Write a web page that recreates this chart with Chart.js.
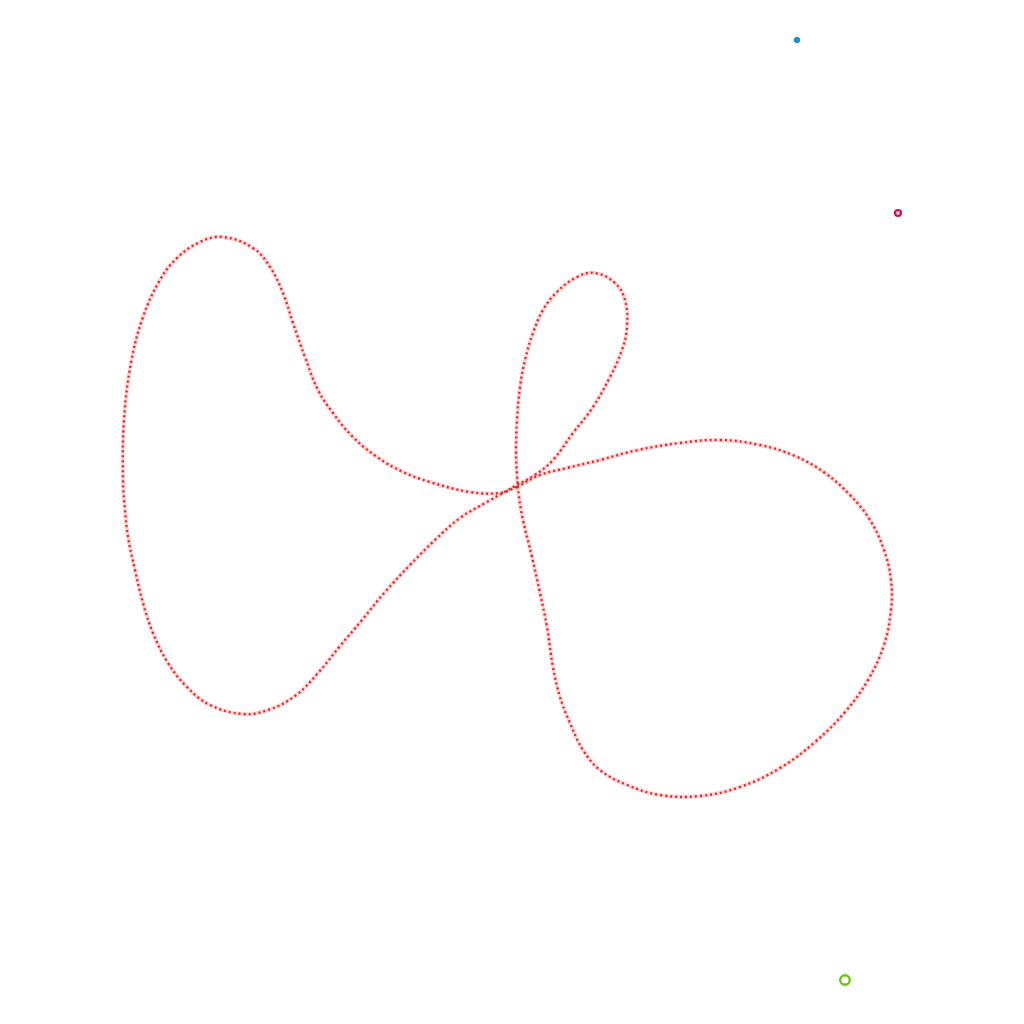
<!DOCTYPE html>
<html>
<head>
<meta charset="utf-8">
<script src="https://cdn.jsdelivr.net/npm/chart.js@4/dist/chart.umd.min.js"></script>
<style>
  html, body { margin: 0; padding: 0; background: #fff; }
  #wrap { width: 1024px; height: 1024px; }
</style>
</head>
<body>
<div id="wrap"><canvas id="curveChart"></canvas></div>
<script>
// closed curve (x right, y down)
const curveX = [517, 500, 470, 430, 403, 377, 353, 333, 318, 305, 293, 283, 270, 253, 223, 200, 177, 160, 143, 131,
  124, 123, 125, 128, 135, 143, 153, 168, 187, 210, 243, 268, 295, 318, 340, 362, 385, 410, 435, 460, 487,
  517, 535, 553, 573, 593, 610, 622, 627, 625, 615, 595, 577, 557, 543, 533, 525, 520, 517, 516, 517, 519, 523,
  532, 540, 547, 553, 560, 570, 583, 600, 627, 660, 700, 740, 780, 815, 845, 868, 884, 891, 891, 884,
  870, 850, 825, 795, 760, 720, 680, 638, 600, 567, 540, 517];
const curveY = [487, 493, 492, 482, 472, 457, 437, 413, 390, 357, 323, 293, 267, 248, 237, 242, 258, 280, 317, 363,
  420, 480, 510, 537, 570, 603, 633, 663, 687, 705, 714, 710, 696, 673, 646, 620, 592, 565, 540, 518, 502,
  485, 475, 460, 433, 407, 377, 350, 327, 300, 283, 273, 277, 292, 310, 333, 360, 387, 420, 450, 475, 497, 520,
  557, 593, 627, 667, 697, 723, 750, 770, 785, 795, 796, 787, 768, 742, 712, 680, 645, 610, 580, 550,
  520, 495, 473, 456, 445, 440, 443, 450, 460, 468, 475, 487];

// single markers
const blueX = [797], blueY = [40];
const pinkX = [898], pinkY = [213];
const greenX = [845], greenY = [980];

const toPoints = (xs, ys) => xs.map((x, i) => ({x: x, y: ys[i]}));
const curve = toPoints(curveX, curveY);

const ctx = document.getElementById("curveChart");

new Chart(ctx, {
  type: 'scatter',
  data: {
    datasets: [
      {
        data: curve,
        showLine: true,
        borderColor: 'rgba(255, 110, 110, 0.28)',
        borderWidth: 4,
        pointRadius: 0,
        tension: 0.4,
        fill: false
      },
      {
        data: curve,
        showLine: true,
        borderColor: '#d80a0f',
        borderWidth: 2.4,
        borderDash: [2, 3],
        pointRadius: 0,
        tension: 0.4,
        fill: false
      },
      {
        data: toPoints(blueX, blueY),
        pointRadius: 2.8,
        backgroundColor: '#1a8fd0',
        borderColor: '#1a8fd0',
        borderWidth: 1
      },
      {
        data: toPoints(pinkX, pinkY),
        pointRadius: 3,
        backgroundColor: '#f4c2d8',
        borderColor: '#c8105e',
        borderWidth: 2.2
      },
      {
        data: toPoints(greenX, greenY),
        pointRadius: 4.8,
        backgroundColor: 'rgba(255,255,255,0)',
        borderColor: '#6cc417',
        borderWidth: 2.4
      }
    ]
  },
  options: {
    responsive: true,
    maintainAspectRatio: false,
    animation: false,
    layout: { padding: 0, autoPadding: false },
    scales: {
      x: { display: false, min: 0, max: 1024 },
      y: { display: false, min: 0, max: 1024, reverse: true }
    },
    plugins: {
      legend: { display: false },
      tooltip: { enabled: false }
    },
    clip: false
  }
});
</script>
</body>
</html>
